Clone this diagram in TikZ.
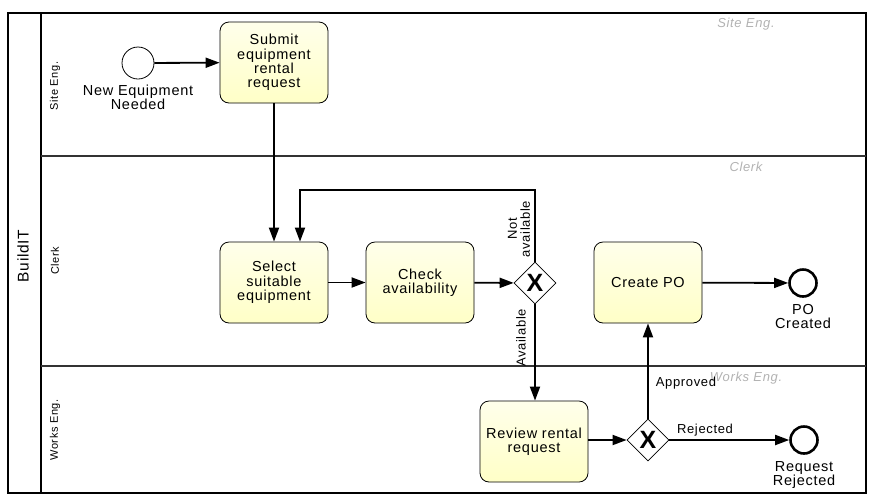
\documentclass[tikz,border=0pt]{standalone}
\usepackage{fontspec}
\setmainfont{Liberation Sans}[LetterSpace=5]
\usetikzlibrary{arrows.meta,shapes.geometric}
\begin{document}
\begin{tikzpicture}[x=1pt,y=-1pt,
  task/.style={draw=black,line width=0.8pt,rounded corners=9pt,minimum width=108pt,minimum height=81pt,
    top color=yellow!8,bottom color=yellow!22,align=center,font=\fontsize{14.5}{14.3}\selectfont,inner sep=0pt},
  startev/.style={circle,draw=black,line width=0.8pt,fill=white,minimum size=32pt,inner sep=0pt},
  endev/.style={circle,draw=black,line width=2.6pt,fill=white,minimum size=27pt,inner sep=0pt},
  gate/.style={diamond,draw=black,line width=0.8pt,fill=white,minimum size=42pt,inner sep=0pt,aspect=1,
    font=\fontsize{25}{25}\selectfont\bfseries},
  flow/.style={line width=1.8pt,-{Triangle[length=14pt,width=10pt]}},
  evlabel/.style={align=center,font=\fontsize{14.5}{14.3}\selectfont},
  flabel/.style={font=\fontsize{13}{13}\selectfont},
  lanename/.style={font=\fontsize{11}{12}\selectfont,rotate=90},
  lanetag/.style={font=\fontsize{13}{13}\selectfont\itshape,text=black!30},
  border/.style={draw=black,line width=1.2pt}
]
\useasboundingbox (0,0) rectangle (870,499);
% pool and lanes
\draw[border] (8,13) rectangle (866,493);
\draw[border] (41,13) -- (41,493);
\draw[border,draw=black!80] (41,156) -- (866,156);
\draw[border,draw=black!80] (41,366) -- (866,366);
\node[rotate=90,font=\fontsize{15.5}{16}\selectfont] (pool) at (23,256) {BuildIT};
\node[lanename] (l1) at (55,86) {Site Eng.};
\node[lanename] (l2) at (55,261) {Clerk};
\node[lanename] (l3) at (55,430) {Works Eng.};
\node[lanetag] (t1) at (746,24) {Site Eng.};
\node[lanetag] (t2) at (746,167) {Clerk};
\node[lanetag] (t3) at (746,378) {Works Eng.};

% nodes
\node[startev] (start) at (138,63) {};
\node[evlabel,anchor=north] (startl) at (138,81) {New Equipment\\Needed};
\node[task] (submit) at (274,62.5) {Submit\\equipment\\rental\\request};
\node[task] (select) at (274,282.5) {Select\\suitable\\equipment};
\node[task] (check) at (420,282.5) {Check\\availability};
\node[gate] (g1) at (535,283) {X};
\node[task] (po) at (648,282.5) {Create PO};
\node[endev] (endpo) at (803,283) {};
\node[evlabel,anchor=north] (endpol) at (803,301) {PO\\Created};
\node[task] (review) at (534,441.5) {Review rental\\request};
\node[gate] (g2) at (648,440) {X};
\node[endev] (endrej) at (804,440) {};
\node[evlabel,anchor=north] (endrejl) at (804,458) {Request\\Rejected};
\coordinate (c1) at (535,190);
\coordinate (c2) at (300,190);

% flows
\draw[flow] (start) -- (submit);
\draw[flow] (submit.south) -- (select.north);
\draw[flow] (select) -- (check);
\draw[flow] (check) -- (g1);
\draw[flow] (g1.north) -- (c1) -- (c2) -- (select.north -| c2);
\draw[flow] (g1.south) -- (g1.south |- review.north);
\draw[flow] (review.east |- g2) -- (g2);
\draw[flow] (g2.north) -- (po.south);
\draw[flow] (g2) -- (endrej);
\draw[flow] (po) -- (endpo);

% flow labels
\node[flabel,rotate=90,align=center] (lna) at (519,229) {Not\\available};
\node[flabel,rotate=90] (la) at (521,338) {Available};
\node[flabel] (lapp) at (686,383) {Approved};
\node[flabel] (lrej) at (705,430) {Rejected};
\end{tikzpicture}
\end{document}
